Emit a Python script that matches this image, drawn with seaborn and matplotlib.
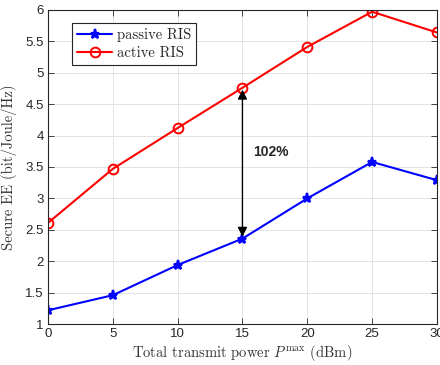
import numpy as np
import pandas as pd
import matplotlib
matplotlib.use("Agg")
import matplotlib.pyplot as plt
import seaborn as sns

power_dbm = [0, 5, 10, 15, 20, 25, 30]
passive_ee = [1.22, 1.46, 1.94, 2.36, 3.00, 3.58, 3.29]
active_ee = [2.61, 3.47, 4.12, 4.76, 5.41, 5.97, 5.64]
series_names = ["passive RIS", "active RIS"]
gain_label = "102%"

sns.set_theme(style="whitegrid")
plt.rcParams["font.family"] = ["Liberation Sans", "DejaVu Sans"]
plt.rcParams["mathtext.fontset"] = "cm"
plt.rcParams["axes.formatter.use_mathtext"] = False

df = pd.DataFrame({
    "P": power_dbm * 2,
    "EE": passive_ee + active_ee,
    "scheme": [series_names[0]] * len(power_dbm) + [series_names[1]] * len(power_dbm),
})
colors = {series_names[0]: "#0000ff", series_names[1]: "#ff0000"}

fig = plt.figure(figsize=(4.4, 3.65), dpi=100)
ax = fig.add_axes([0.109, 0.112, 0.884, 0.861])

sns.lineplot(data=df, x="P", y="EE", hue="scheme", style="scheme",
             palette=colors,
             markers={series_names[0]: "*", series_names[1]: "o"},
             dashes=False, linewidth=1.5, ax=ax, legend=False)
for line, name in zip(ax.lines, series_names):
    line.set_markeredgecolor(colors[name])
    if name == series_names[1]:
        line.set_markerfacecolor("none")
        line.set_markeredgewidth(1.4)
        line.set_markersize(7)
    else:
        line.set_markerfacecolor(colors[name])
        line.set_markeredgewidth(1.6)
        line.set_markersize(6.5)
    line.set_label(name)

ax.set_xlim(0, 30)
ax.set_ylim(1, 6)
ax.set_xticks(power_dbm)
yt = np.arange(1, 6.01, 0.5)
ax.set_yticks(yt)
ax.set_yticklabels([f"{v:g}" for v in yt])
ax.grid(True, color="#e3e3e3", linewidth=0.7)
for s in ax.spines.values():
    s.set_color("#262626")
    s.set_linewidth(0.8)
ax.tick_params(direction="in", length=4, width=0.6, colors="#262626",
               labelsize=9.5, top=True, right=True, bottom=True, left=True, pad=3)

serif = ["cmr10", "DejaVu Serif"]
ax.set_xlabel(r"Total transmit power $P^{\max}$ (dBm)", family=serif,
              fontsize=10.5, color="#333333", labelpad=2)
ax.set_ylabel("Secure EE (bit/Joule/Hz)", family=serif,
              fontsize=10.5, color="#333333", labelpad=6)

i15 = power_dbm.index(15)
ax.annotate("", xy=(15, active_ee[i15] - 0.03), xytext=(15, passive_ee[i15] + 0.03),
            arrowprops=dict(arrowstyle="<|-|>", color="black", lw=1.0,
                            mutation_scale=14, shrinkA=0, shrinkB=0))
ax.text(15.8, 3.74, gain_label, fontsize=10, fontweight="bold", va="center")

leg = ax.legend(loc="upper left", bbox_to_anchor=(0.062, 0.959), borderaxespad=0,
                fancybox=False, framealpha=1, edgecolor="#262626",
                prop={"family": serif, "size": 10.5},
                handlelength=2.4, borderpad=0.35, labelspacing=0.3, handletextpad=0.3)
leg.get_frame().set_linewidth(0.8)

fig.savefig("out.png", dpi=100)
